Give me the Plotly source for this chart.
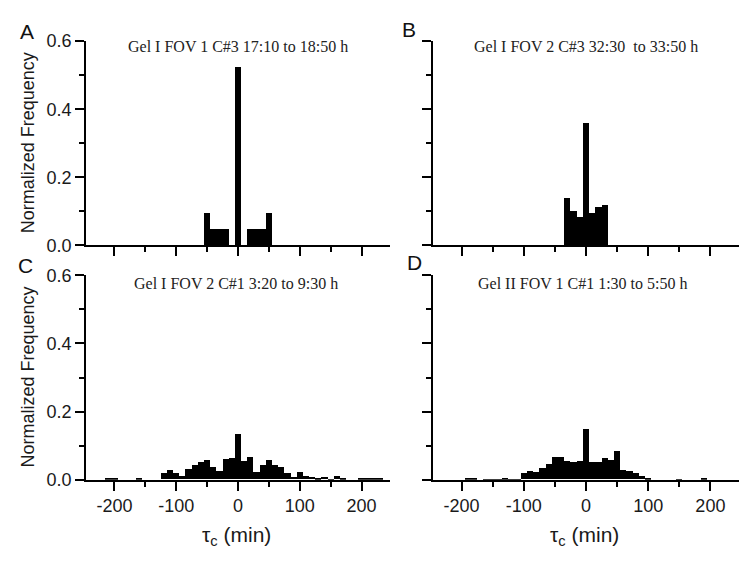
import plotly.graph_objects as go

# ---- data (bin centres in min, normalized frequency) ----
A_bins = [-50, -40, -30, -20, 0, 20, 30, 40, 50]
A_freq = [0.095, 0.048, 0.048, 0.048, 0.524, 0.048, 0.048, 0.048, 0.095]

B_bins = [-30, -20, -10, 0, 10, 20, 30]
B_freq = [0.140, 0.101, 0.083, 0.358, 0.096, 0.113, 0.118]

C_bins = [-210, -200, -160, -120, -110, -100, -90, -80, -70, -60, -50, -40, -30, -20, -10,
          0, 10, 20, 30, 40, 50, 60, 70, 80, 90, 100, 110, 120, 130, 140, 150, 160, 170,
          200, 210, 220, 230]
C_freq = [0.002, 0.002, 0.002, 0.018, 0.028, 0.020, 0.009, 0.031, 0.041, 0.050, 0.058, 0.036, 0.026, 0.060, 0.064,
          0.133, 0.053, 0.066, 0.022, 0.043, 0.058, 0.042, 0.035, 0.019, 0.008, 0.022, 0.010, 0.008, 0.004, 0.007, 0.001, 0.009, 0.004,
          0.003, 0.003, 0.003, 0.003]

D_bins = [-190, -180, -160, -150, -140, -130, -120, -110, -100, -90, -80, -70, -60, -50, -40, -30, -20, -10,
          0, 10, 20, 30, 40, 50, 60, 70, 80, 90, 100, 150, 190]
D_freq = [0.002, 0.002, 0.001, 0.001, 0.001, 0.003, 0.001, 0.001, 0.019, 0.026, 0.022, 0.032, 0.046, 0.066, 0.065, 0.055, 0.051, 0.053,
          0.149, 0.050, 0.052, 0.064, 0.058, 0.082, 0.027, 0.024, 0.019, 0.010, 0.004, 0.001, 0.002]

x_tickvals = [-200, -100, 0, 100, 200]
x_ticktext = ["-200", "-100", "0", "100", "200"]
x_minorvals = [-150, -50, 50, 150]

panel_titles = ["Gel I FOV 1 C#3 17:10 to 18:50 h",
                "Gel I FOV 2 C#3 32:30  to 33:50 h",
                "Gel I FOV 2 C#1 3:20 to 9:30 h",
                "Gel II FOV 1 C#1 1:30 to 5:50 h"]
panel_letters = ["A", "B", "C", "D"]
x_title = "τ<sub>c</sub> (min)"
y_title = "Normalized Frequency"

# page has an 8px body margin: draw a figure that fits inside it
OFF = 8
W, H = 751 - 2 * OFF, 571 - 2 * OFF
BIN_W = 10

# pixel boxes (in page pixels) of plot areas: (left, right, top, bottom)
boxes = [(86, 390, 32, 244), (433, 739, 32, 244), (86, 390, 275, 487), (433, 739, 275, 487)]

def px(x):
    return (x - OFF) / W

def py(y):
    return (H - (y - OFF)) / H

fig = go.Figure()
data = [(A_bins, A_freq), (B_bins, B_freq), (C_bins, C_freq), (D_bins, D_freq)]
for i, (bx, fy) in enumerate(data):
    sfx = "" if i == 0 else str(i + 1)
    fig.add_trace(go.Bar(x=bx, y=fy, width=BIN_W, marker=dict(color="black", line=dict(width=0)),
                         xaxis="x" + sfx, yaxis="y" + sfx, showlegend=False))

SANS = "Liberation Sans, Arial, sans-serif"
tick_font = dict(family=SANS, size=18, color="#1a1a1a")
layout = dict(width=W, height=H, margin=dict(l=0, r=0, t=0, b=0),
              plot_bgcolor="white", paper_bgcolor="white", bargap=0, showlegend=False)

LW = 1.8
for i, (l, r, t, b) in enumerate(boxes):
    sfx = "" if i == 0 else str(i + 1)
    show_x = i >= 2
    show_y = i in (0, 2)
    layout["xaxis" + sfx] = dict(
        domain=[px(l), px(r)], range=[-246, 246], anchor="y" + sfx,
        tickmode="array", tickvals=x_tickvals, ticktext=x_ticktext,
        ticks="outside", ticklen=9, tickwidth=LW, tickcolor="black",
        showline=True, linecolor="black", linewidth=LW, showgrid=False, zeroline=False,
        showticklabels=show_x, tickfont=tick_font,
        minor=dict(tickmode="array", tickvals=x_minorvals, ticks="outside", ticklen=5,
                   tickwidth=LW, tickcolor="black", showgrid=False),
    )
    layout["yaxis" + sfx] = dict(
        domain=[py(b), py(t)], range=[0, 0.6], anchor="x" + sfx,
        tick0=0, dtick=0.2, tickformat=".1f", ticks="outside", ticklen=9, tickwidth=LW, tickcolor="black",
        showline=True, linecolor="black", linewidth=LW, showgrid=False, zeroline=False,
        showticklabels=show_y, tickfont=tick_font,
        minor=dict(dtick=0.1, tick0=0, ticks="outside", ticklen=5, tickwidth=LW, tickcolor="black",
                   showgrid=False),
    )

fig.update_layout(**layout)

annotations = []
title_pos = [(238, 38), (586, 38), (236, 283), (582, 283)]
letter_pos = [(27, 22), (409, 20), (25, 265), (414, 262)]
for i in range(4):
    tx, ty = title_pos[i]
    annotations.append(dict(x=px(tx), y=py(ty), xref="paper", yref="paper", text=panel_titles[i],
                            showarrow=False, xanchor="center", yanchor="middle",
                            font=dict(family="Liberation Serif, Times New Roman, serif", size=16, color="#222")))
    lx, ly = letter_pos[i]
    annotations.append(dict(x=px(lx), y=py(ly), xref="paper", yref="paper", text=panel_letters[i],
                            showarrow=False, xanchor="center", yanchor="middle",
                            font=dict(family=SANS, size=21, color="#111")))

for yc in (138, 381):
    annotations.append(dict(x=px(28), y=py(yc), xref="paper", yref="paper", text=y_title,
                            textangle=-90, showarrow=False, xanchor="center", yanchor="middle",
                            font=dict(family=SANS, size=18, color="#1a1a1a")))
for xc in (236, 584):
    annotations.append(dict(x=px(xc), y=py(545), xref="paper", yref="paper", text=x_title,
                            showarrow=False, xanchor="center", yanchor="middle",
                            font=dict(family=SANS, size=21, color="#1a1a1a")))

fig.update_layout(annotations=annotations)
fig.write_html("out.html")
